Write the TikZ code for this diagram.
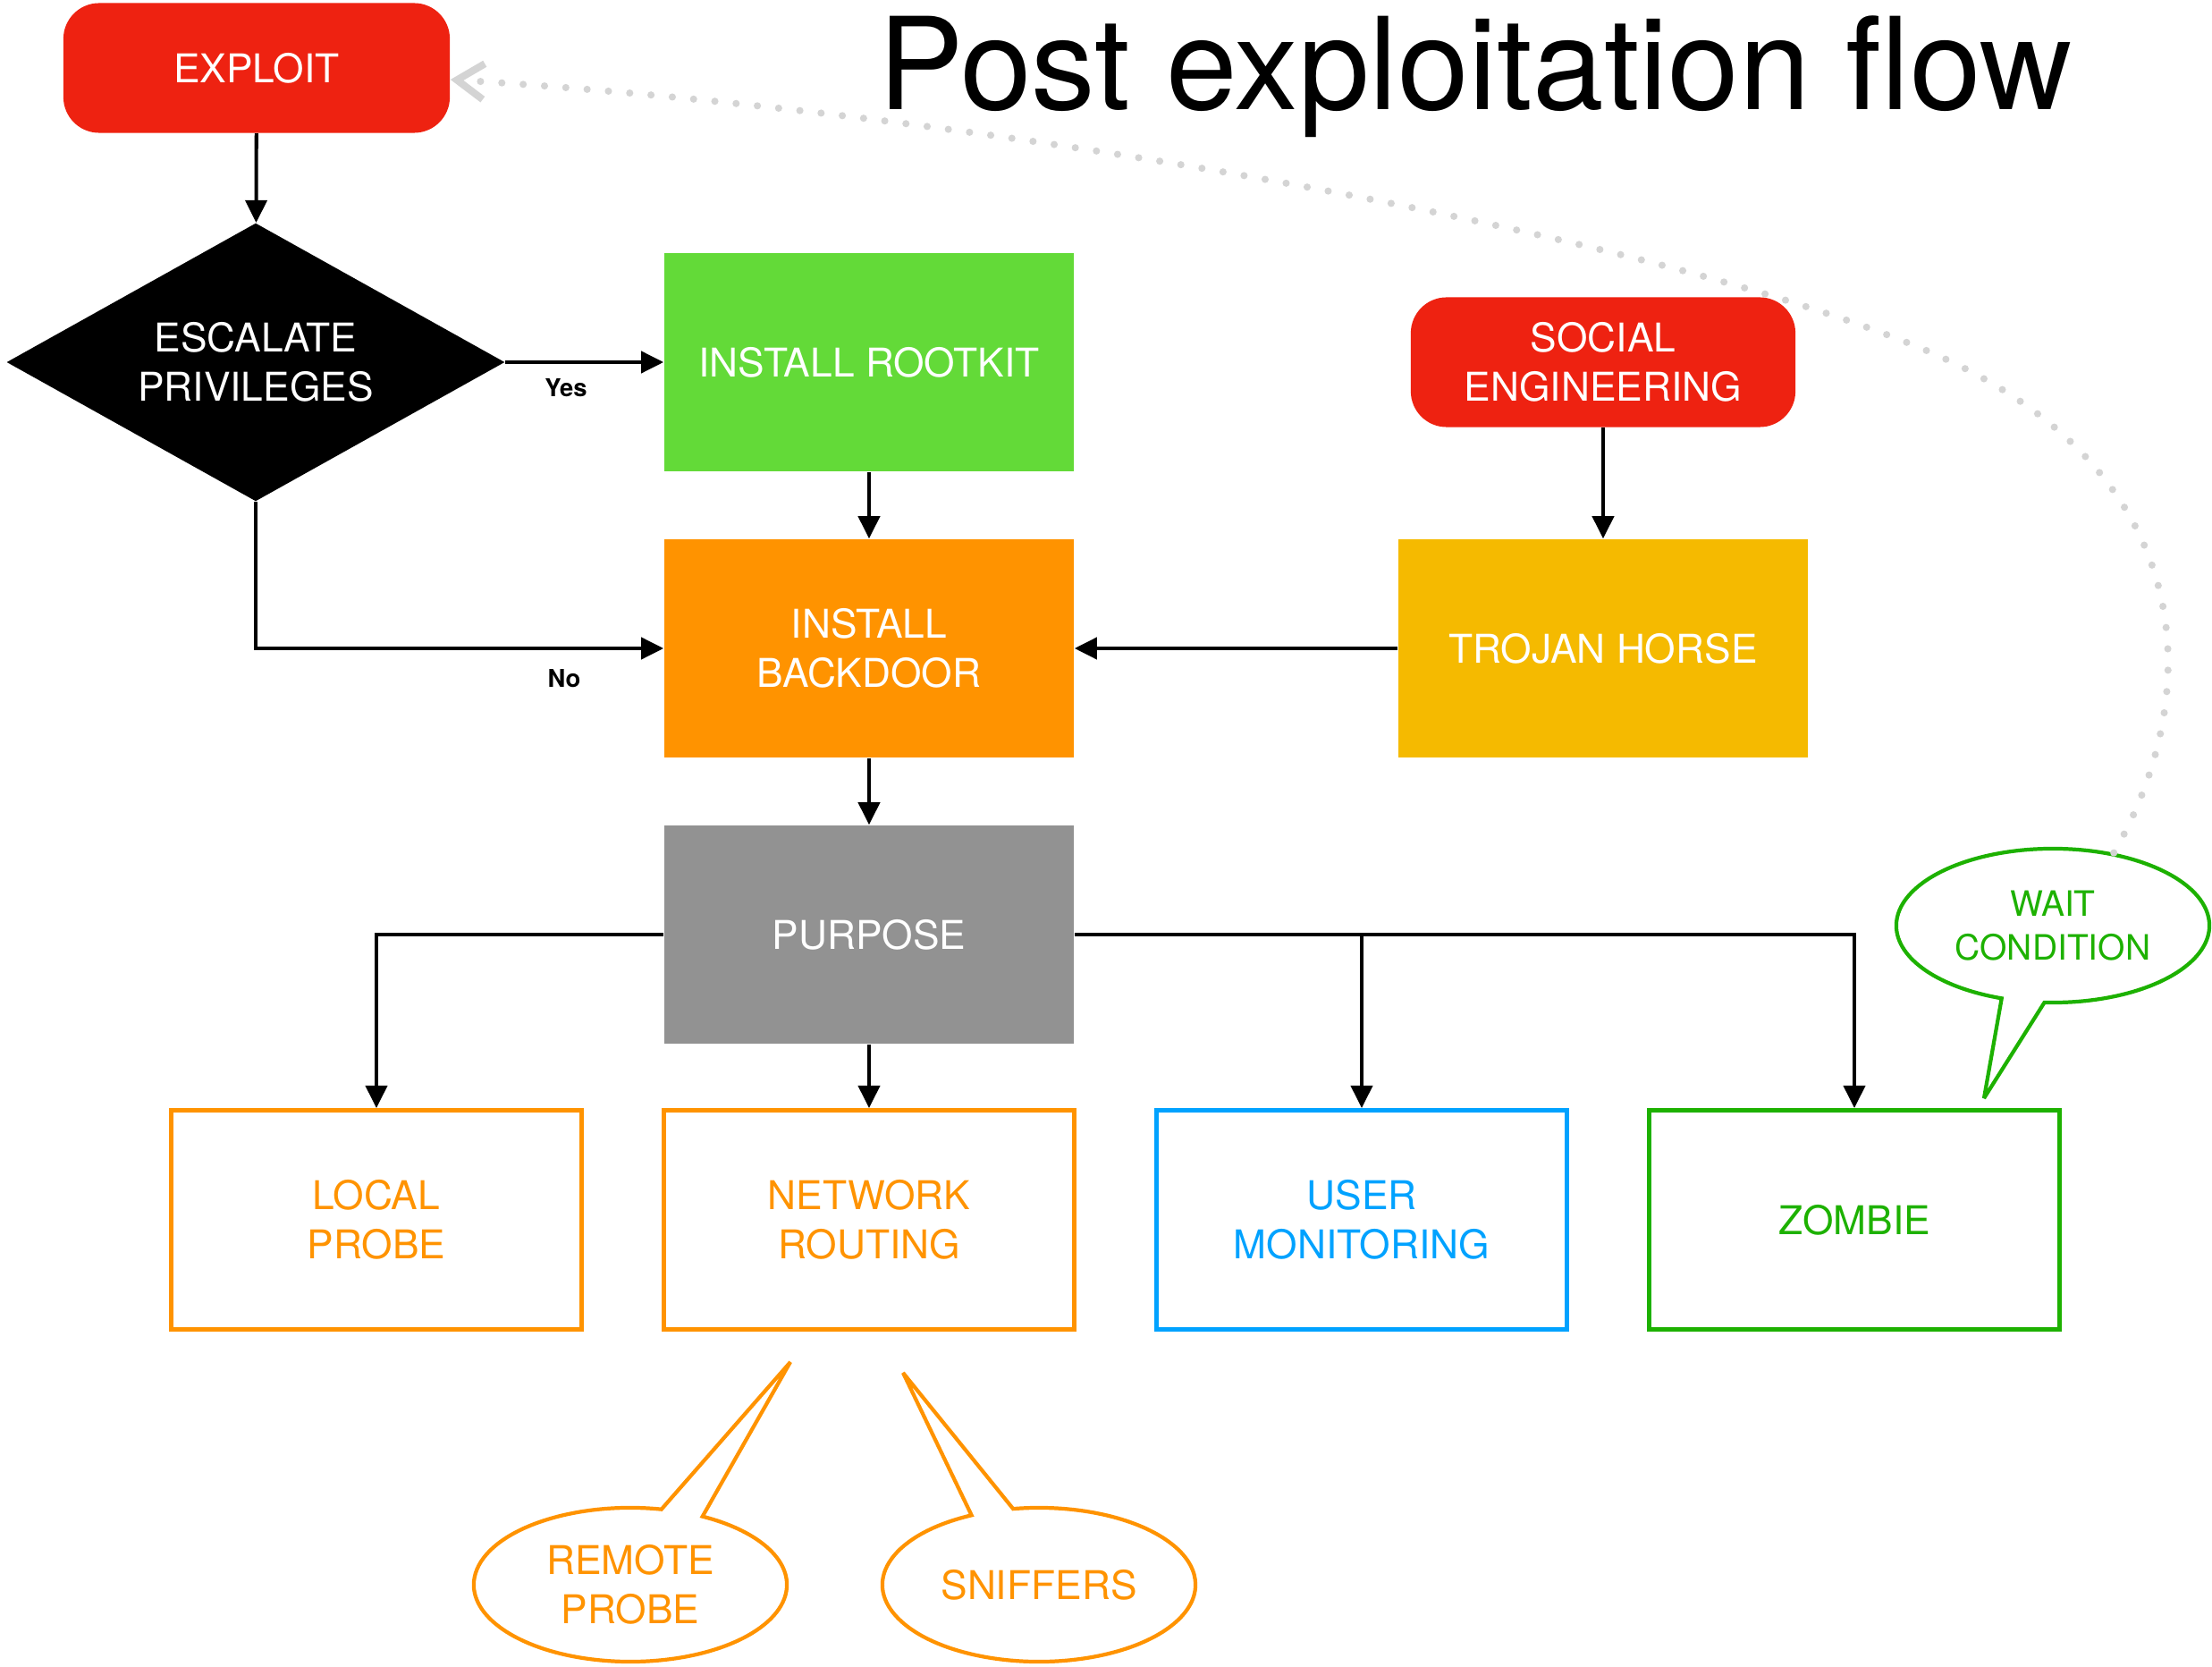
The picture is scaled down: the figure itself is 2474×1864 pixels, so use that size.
\documentclass[tikz,border=0pt]{standalone}
\usepackage{fontspec}
\setmainfont{TeX Gyre Heros}
\usetikzlibrary{shapes.geometric,shapes.callouts,arrows.meta}

\definecolor{exred}{HTML}{EE2211}
\definecolor{kitgreen}{HTML}{63DA38}
\definecolor{doororange}{HTML}{FF9300}
\definecolor{trojanyellow}{HTML}{F5BA00}
\definecolor{purposegray}{HTML}{929292}
\definecolor{userblue}{HTML}{00A2FF}
\definecolor{zombiegreen}{HTML}{1DB100}
\definecolor{loopgray}{HTML}{D4D4D4}

\begin{document}
\begin{tikzpicture}[x=0.01cm,y=-0.01cm,
  boxfont/.style={font=\fontsize{12.6pt}{15.7pt}\selectfont},
  solidbox/.style={boxfont, rectangle, fill=#1, text=white, minimum width=4.58cm,
    minimum height=2.44cm, inner sep=0pt, align=center},
  roundbox/.style={boxfont, rectangle, rounded corners=0.4cm, fill=exred, text=white,
    minimum width=4.32cm, minimum height=1.45cm, inner sep=0pt, align=center},
  outlinebox/.style={boxfont, rectangle, draw=#1, text=#1, line width=1.4pt,
    minimum width=4.59cm, minimum height=2.45cm, inner sep=0pt, align=center},
  bubble/.style={ellipse callout, draw=#1, text=#1, line width=1.2pt, fill=white,
    miter limit=4, minimum width=3.5cm, minimum height=1.72cm, inner sep=0pt,
    align=center, callout pointer arc=16},
  flow/.style={line width=1.15pt, -{Triangle[length=0.25cm,width=0.24cm]}},
  tag/.style={font=\bfseries\fontsize{7.8pt}{9pt}\selectfont},
  loopback/.style={draw=loopgray, line width=2.3pt, line cap=round,
    dash pattern=on 0pt off 6.8pt,
    -{Straight Barb[length=0.3cm,width=0.4cm]}},
]
\useasboundingbox (0,0) rectangle (2474,1864);

% title
\node[anchor=base, font=\fontsize{40.7pt}{48pt}\selectfont] (title) at (1650,123)
  {Post exploitation flow};

% main chain
\node[roundbox] (exploit) at (287,76) {EXPLOIT};
\node[diamond, aspect=2, fill=black, text=white, boxfont, inner sep=0pt, align=center,
  minimum width=5.57cm, minimum height=3.11cm] (escalate) at (286,405)
  {ESCALATE\\PRIVILEGES};
\node[solidbox=kitgreen] (rootkit) at (972,405) {INSTALL ROOTKIT};
\node[solidbox=doororange] (backdoor) at (972,725) {INSTALL\\BACKDOOR};
\node[roundbox, minimum width=4.3cm] (social) at (1793,405) {SOCIAL\\ENGINEERING};
\node[solidbox=trojanyellow] (trojan) at (1793,725) {TROJAN HORSE};
\node[solidbox=purposegray] (purpose) at (972,1045) {PURPOSE};

% purposes
\node[outlinebox=doororange] (local) at (421,1364) {LOCAL\\PROBE};
\node[outlinebox=doororange] (network) at (972,1364) {NETWORK\\ROUTING};
\node[outlinebox=userblue] (user) at (1523,1364) {USER\\MONITORING};
\node[outlinebox=zombiegreen] (zombie) at (2074,1364) {ZOMBIE};

% callouts
\node[bubble=doororange, boxfont, callout absolute pointer={(884,1523)}]
  (remote) at (705,1772) {REMOTE\\PROBE};
\node[bubble=doororange, boxfont, callout absolute pointer={(1010,1535)}]
  (sniffers) at (1162,1772) {SNIFFERS};
\node[bubble=zombiegreen, font=\fontsize{11.1pt}{14pt}\selectfont,
  callout absolute pointer={(2219,1228)}]
  (wait) at (2296,1035) {WAIT\\CONDITION};

% connectors
\draw[flow] (exploit) -- (escalate);
\draw[flow] (escalate.east) -- (rootkit.west |- escalate.east);
\node[tag] (yes) at (633,434) {Yes};
\draw[flow] (escalate.south) |- (backdoor.west);
\node[tag] (no) at (631,759) {No};
\draw[flow] (rootkit) -- (backdoor);
\draw[flow] (social) -- (trojan);
\draw[flow] (trojan) -- (backdoor);
\draw[flow] (backdoor) -- (purpose);
\draw[flow] (purpose.west) -| (local.north);
\draw[flow] (purpose) -- (network);
\draw[flow] (purpose.east) -| (zombie.north);
\draw[flow] (purpose.east -| user.north) -- (user.north);

% loop back to the start
\draw[loopback] (wait.50) .. controls (2470,770) and (2460,520) .. (2150,390)
  .. controls (1840,260) and (1100,125) .. ([yshift=-0.13cm]exploit.east);
\end{tikzpicture}
\end{document}
